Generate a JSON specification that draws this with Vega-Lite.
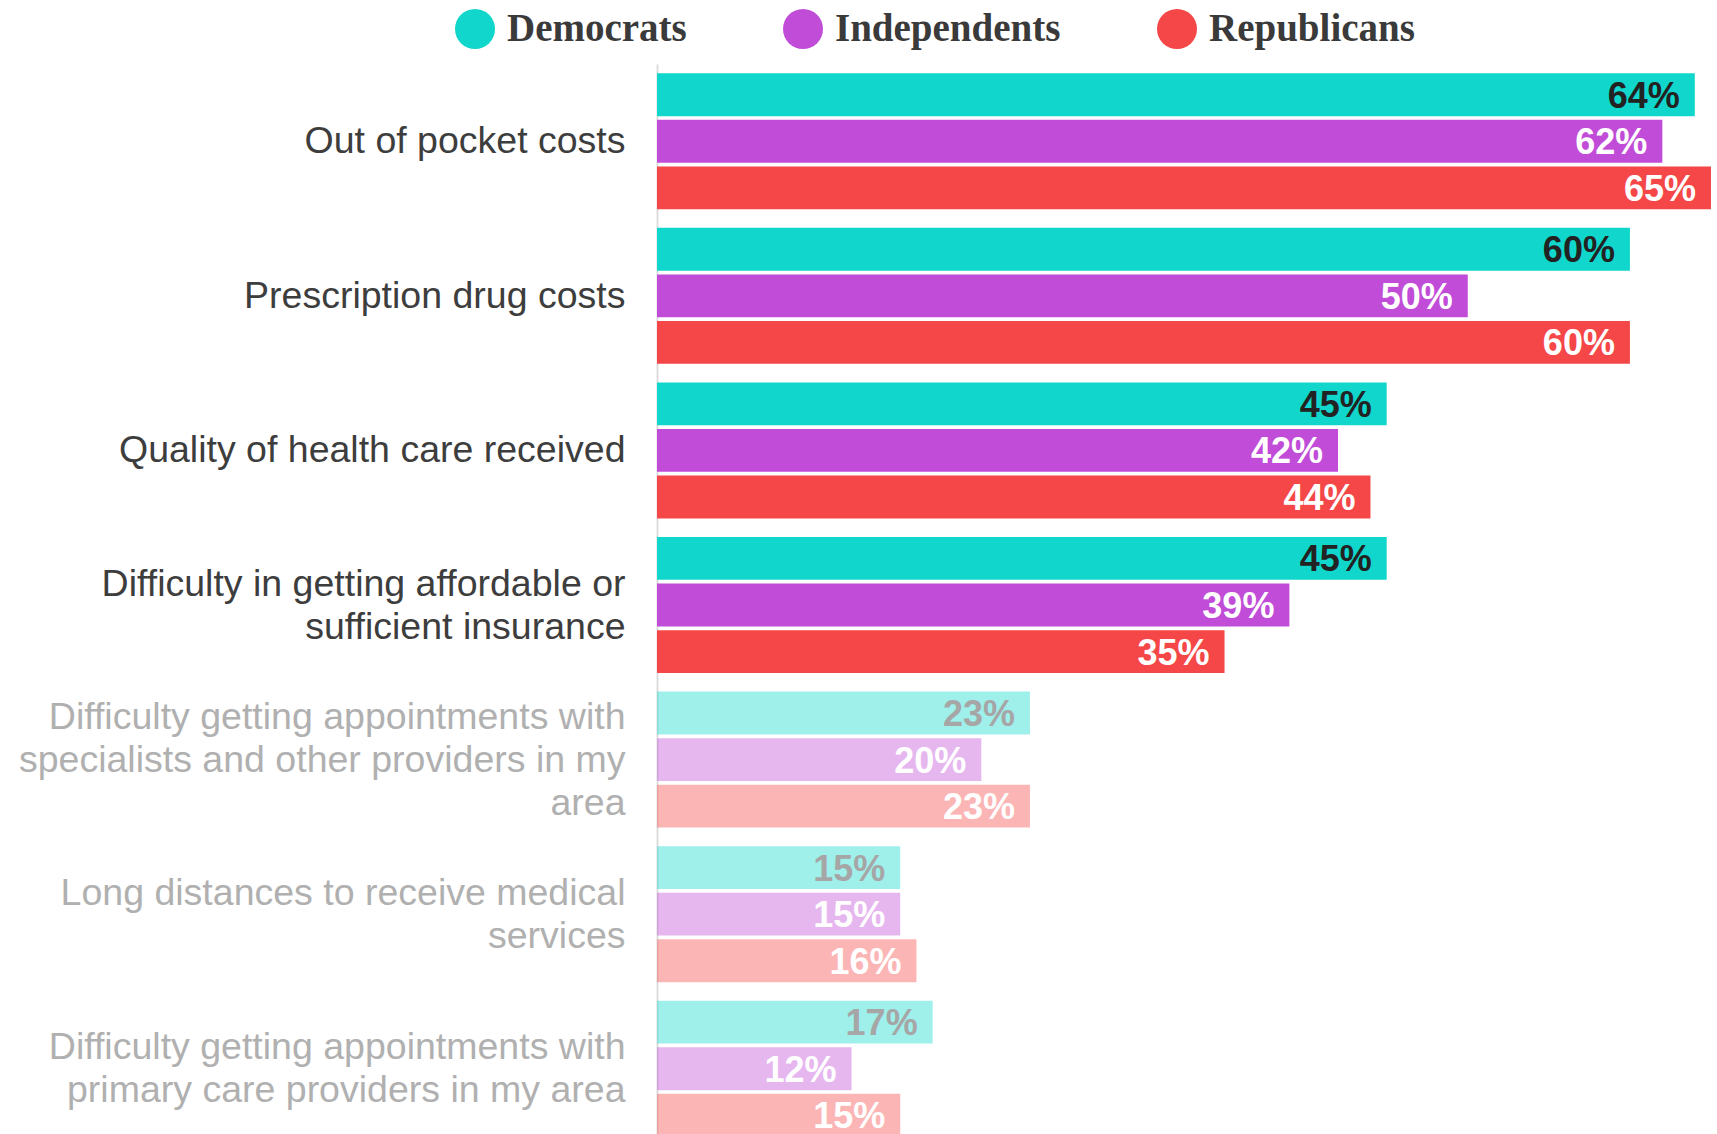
{
  "$schema": "https://vega.github.io/schema/vega-lite/v6.json",
  "autosize": {"type": "none"},
  "padding": {"left": 657, "top": 64, "right": 6, "bottom": 0},
  "width": 1054,
  "height": 1082,
  "background": "white",
  "config": {"view": {"stroke": null}},
  "data": {"values": [
    {"category": "Out of pocket costs", "party": "Democrats", "value": 64},
    {"category": "Out of pocket costs", "party": "Independents", "value": 62},
    {"category": "Out of pocket costs", "party": "Republicans", "value": 65},
    {"category": "Prescription drug costs", "party": "Democrats", "value": 60},
    {"category": "Prescription drug costs", "party": "Independents", "value": 50},
    {"category": "Prescription drug costs", "party": "Republicans", "value": 60},
    {"category": "Quality of health care received", "party": "Democrats", "value": 45},
    {"category": "Quality of health care received", "party": "Independents", "value": 42},
    {"category": "Quality of health care received", "party": "Republicans", "value": 44},
    {"category": "Difficulty in getting affordable or|sufficient insurance", "party": "Democrats", "value": 45},
    {"category": "Difficulty in getting affordable or|sufficient insurance", "party": "Independents", "value": 39},
    {"category": "Difficulty in getting affordable or|sufficient insurance", "party": "Republicans", "value": 35},
    {"category": "Difficulty getting appointments with|specialists and other providers in my|area", "party": "Democrats", "value": 23},
    {"category": "Difficulty getting appointments with|specialists and other providers in my|area", "party": "Independents", "value": 20},
    {"category": "Difficulty getting appointments with|specialists and other providers in my|area", "party": "Republicans", "value": 23},
    {"category": "Long distances to receive medical|services", "party": "Democrats", "value": 15},
    {"category": "Long distances to receive medical|services", "party": "Independents", "value": 15},
    {"category": "Long distances to receive medical|services", "party": "Republicans", "value": 16},
    {"category": "Difficulty getting appointments with|primary care providers in my area", "party": "Democrats", "value": 17},
    {"category": "Difficulty getting appointments with|primary care providers in my area", "party": "Independents", "value": 12},
    {"category": "Difficulty getting appointments with|primary care providers in my area", "party": "Republicans", "value": 15}
  ]},
  "transform": [
    {"calculate": "datum.value + '%'", "as": "label"}
  ],
  "encoding": {
    "y": {
      "field": "category", "type": "nominal", "sort": null,
      "scale": {"paddingInner": 0.12, "paddingOuter": 0.06},
      "axis": {
        "title": null,
        "ticks": false,
        "domainColor": "#dddddd",
        "domainWidth": 2,
        "labelFont": "Liberation Sans",
        "labelFontSize": 37.5,
        "labelLineHeight": 43,
        "labelPadding": 32,
        "labelLimit": 700,
        "labelExpr": "split(datum.value, '|')",
        "labelOffset": {
          "condition": [
            {"test": "length(split(datum.value, '|')) == 3", "value": -42},
            {"test": "length(split(datum.value, '|')) == 2", "value": -20.5}
          ],
          "value": 1
        },
        "labelColor": {
          "condition": {"test": "indexof(['Out of pocket costs','Prescription drug costs','Quality of health care received','Difficulty in getting affordable or|sufficient insurance'], datum.value) >= 0", "value": "#3d3d3d"},
          "value": "#b0b0b0"
        }
      }
    },
    "yOffset": {
      "field": "party", "type": "nominal",
      "sort": ["Democrats", "Independents", "Republicans"],
      "scale": {"paddingInner": 0.08, "paddingOuter": 0}
    },
    "x": {
      "field": "value", "type": "quantitative",
      "scale": {"domain": [0, 65], "nice": false, "zero": true},
      "axis": null
    }
  },
  "layer": [
    {
      "mark": {"type": "bar", "cornerRadius": 0},
      "encoding": {
        "color": {
          "field": "party", "type": "nominal",
          "scale": {"domain": ["Democrats", "Independents", "Republicans"], "range": ["#10d6cc", "#c04cd8", "#f54747"]},
          "legend": {
            "title": null,
            "orient": "none",
            "direction": "horizontal",
            "legendX": -202,
            "legendY": -55,
            "symbolType": "circle",
            "symbolSize": 1600,
            "symbolStrokeWidth": 0,
            "symbolOpacity": 1,
            "labelFont": "Liberation Serif",
            "labelFontWeight": "bold",
            "labelFontSize": 39,
            "labelColor": "#3a3a3a",
            "labelOffset": 12,
            "columnPadding": 96,
            "labelLimit": 400
          }
        },
        "opacity": {
          "condition": {"test": "indexof(['Out of pocket costs','Prescription drug costs','Quality of health care received','Difficulty in getting affordable or|sufficient insurance'], datum.category) >= 0", "value": 1},
          "value": 0.4
        }
      }
    },
    {
      "mark": {"type": "text", "align": "right", "baseline": "middle", "dx": -15, "dy": 2, "font": "Liberation Sans", "fontWeight": "bold", "fontSize": 36},
      "encoding": {
        "text": {"field": "label"},
        "color": {
          "condition": [
            {"test": "datum.party === 'Democrats' && indexof(['Out of pocket costs','Prescription drug costs','Quality of health care received','Difficulty in getting affordable or|sufficient insurance'], datum.category) >= 0", "value": "#222222"},
            {"test": "datum.party === 'Democrats'", "value": "#a6a6a6"}
          ],
          "value": "#ffffff"
        }
      }
    }
  ]
}
